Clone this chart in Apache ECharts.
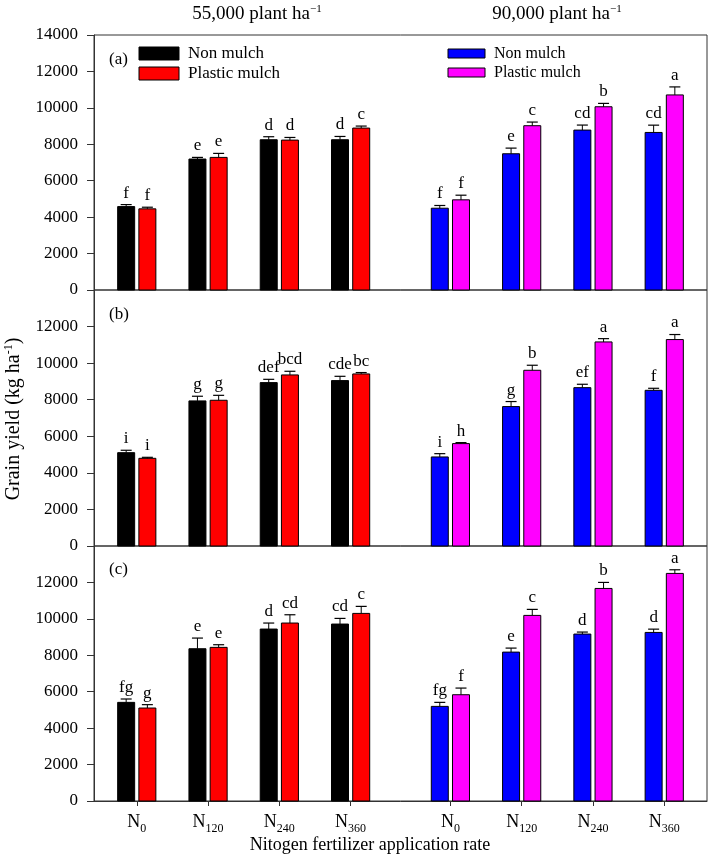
<!DOCTYPE html>
<html>
<head>
<meta charset="utf-8">
<script src="https://cdn.jsdelivr.net/npm/echarts@6/dist/echarts.min.js"></script>
<style>html,body{margin:0;padding:0;background:#fff;}#chart{width:709px;height:856px;}</style>
</head>
<body>
<div id="chart"></div>
<script>
// ---------------- data ----------------
const nLevels = ['0', '120', '240', '360'];
const densityTitles = ['55,000 plant ha', '90,000 plant ha'];
const treatments = ['Non mulch', 'Plastic mulch'];
const yTicks = [0, 2000, 4000, 6000, 8000, 10000, 12000, 14000];
const panelTags = ['(a)', '(b)', '(c)'];

// panel (a)
const a55NonMean = [4580, 7190, 8250, 8250];
const a55NonSE = [110, 90, 165, 180];
const a55NonSig = ['f', 'e', 'd', 'd'];
const a55PlaMean = [4455, 7280, 8230, 8890];
const a55PlaSE = [90, 220, 145, 110];
const a55PlaSig = ['f', 'e', 'd', 'c'];
const a90NonMean = [4490, 7480, 8780, 8650];
const a90NonSE = [150, 310, 275, 400];
const a90NonSig = ['f', 'e', 'cd', 'cd'];
const a90PlaMean = [4950, 9020, 10060, 10710];
const a90PlaSE = [255, 200, 185, 440];
const a90PlaSig = ['f', 'c', 'b', 'a'];

// panel (b)
const b55NonMean = [5105, 7935, 8935, 9045];
const b55NonSE = [130, 255, 180, 235];
const b55NonSig = ['i', 'g', 'def', 'cde'];
const b55PlaMean = [4795, 7970, 9355, 9410];
const b55PlaSE = [55, 270, 200, 75];
const b55PlaSig = ['i', 'g', 'bcd', 'bc'];
const b90NonMean = [4870, 7625, 8660, 8515];
const b90NonSE = [180, 275, 185, 110];
const b90NonSig = ['i', 'g', 'ef', 'f'];
const b90PlaMean = [5600, 9610, 11160, 11290];
const b90PlaSE = [55, 275, 180, 275];
const b90PlaSig = ['h', 'b', 'a', 'a'];

// panel (c)
const c55NonMean = [5415, 8360, 9440, 9715];
const c55NonSE = [185, 585, 330, 310];
const c55NonSig = ['fg', 'e', 'd', 'cd'];
const c55PlaMean = [5105, 8435, 9770, 10300];
const c55PlaSE = [185, 145, 455, 385];
const c55PlaSig = ['g', 'e', 'cd', 'c'];
const c90NonMean = [5195, 8175, 9165, 9255];
const c90NonSE = [220, 220, 110, 180];
const c90NonSig = ['fg', 'e', 'd', 'd'];
const c90PlaMean = [5835, 10190, 11670, 12495];
const c90PlaSE = [365, 330, 330, 200];
const c90PlaSig = ['f', 'c', 'b', 'a'];

// ---------------- layout / style ----------------
const FONT = '"Liberation Serif", "Times New Roman", serif';
const AXIS_COLOR = '#333';
const colors = { N55: '#000000', P55: '#ff0000', N90: '#0000ff', P90: '#ff00ff' };
const BAR_W = 17, BAR_OFF = 10.6, CAP_HALF = 5.5;

// group centre on the numeric x axis: density block 0 starts at 1, block 1 at 5.4
function groupPos(d, i) { return (d === 0 ? 1 : 5.4) + i; }
const tickPositions = [];
[0, 1].forEach(d => nLevels.forEach((n, i) => tickPositions.push(groupPos(d, i))));

const panels = [
  { N55: [a55NonMean, a55NonSE, a55NonSig], P55: [a55PlaMean, a55PlaSE, a55PlaSig],
    N90: [a90NonMean, a90NonSE, a90NonSig], P90: [a90PlaMean, a90PlaSE, a90PlaSig] },
  { N55: [b55NonMean, b55NonSE, b55NonSig], P55: [b55PlaMean, b55PlaSE, b55PlaSig],
    N90: [b90NonMean, b90NonSE, b90NonSig], P90: [b90PlaMean, b90PlaSE, b90PlaSig] },
  { N55: [c55NonMean, c55NonSE, c55NonSig], P55: [c55PlaMean, c55PlaSE, c55PlaSig],
    N90: [c90NonMean, c90NonSE, c90NonSig], P90: [c90PlaMean, c90PlaSE, c90PlaSig] }
];
const gridBoxes = [ {top: 35, height: 255}, {top: 290, height: 256}, {top: 546, height: 255} ];

const grids = [], xAxes = [], yAxes = [], series = [];
gridBoxes.forEach((g, p) => {
  grids.push({ left: 94, right: 2, top: g.top, height: g.height, show: true,
    borderColor: AXIS_COLOR, borderWidth: 1, backgroundColor: 'transparent' });
  const isLast = p === 2;
  xAxes.push({
    type: 'value', gridIndex: p, min: 0.4, max: 9.0,
    axisLine: { show: isLast, onZero: false, lineStyle: { color: AXIS_COLOR } },
    splitLine: { show: false },
    axisTick: { show: isLast, customValues: tickPositions, length: 5, lineStyle: { color: AXIS_COLOR } },
    axisLabel: {
      show: isLast, customValues: tickPositions, margin: 8,
      formatter: v => {
        const idx = tickPositions.findIndex(t => Math.abs(t - v) < 1e-6);
        return '{n|N}{s|' + nLevels[idx % 4] + '}';
      },
      rich: {
        n: { fontFamily: FONT, fontSize: 18, color: '#000', lineHeight: 26, verticalAlign: 'middle' },
        s: { fontFamily: FONT, fontSize: 12, color: '#000', lineHeight: 26, verticalAlign: 'bottom' }
      }
    }
  });
  yAxes.push({
    type: 'value', gridIndex: p, min: 0, max: 14000, interval: 2000,
    axisLine: { show: true, lineStyle: { color: AXIS_COLOR } },
    splitLine: { show: false },
    axisTick: { show: true, length: 7, lineStyle: { color: AXIS_COLOR } },
    axisLabel: {
      margin: 16, color: '#000', fontFamily: FONT, fontSize: 17,
      formatter: v => (p > 0 && v === 14000) ? '' : String(v)
    }
  });
  const P = panels[p];
  [['N55', 0, -1], ['P55', 0, 1], ['N90', 1, -1], ['P90', 1, 1]].forEach(([key, d, side]) => {
    const [mean, se, sig] = P[key];
    series.push({
      type: 'custom', name: key, xAxisIndex: p, yAxisIndex: p,
      encode: { x: 0, y: 1 },
      data: mean.map((m, i) => [groupPos(d, i), m, se[i]]),
      renderItem: (params, api) => {
        const x = api.value(0), m = api.value(1), e = api.value(2);
        const base = api.coord([x, 0]);
        const top = api.coord([x, m]);
        const cap = api.coord([x, m + e]);
        const cx = base[0] + side * BAR_OFF;
        return {
          type: 'group',
          children: [
            { type: 'rect', shape: { x: cx - BAR_W / 2, y: top[1], width: BAR_W, height: base[1] - top[1] },
              style: { fill: colors[key], stroke: '#000', lineWidth: 1 } },
            { type: 'line', shape: { x1: cx, y1: top[1], x2: cx, y2: cap[1] },
              style: { stroke: '#000', lineWidth: 1 } },
            { type: 'line', shape: { x1: cx - CAP_HALF, y1: cap[1], x2: cx + CAP_HALF, y2: cap[1] },
              style: { stroke: '#000', lineWidth: 1.2 } },
            { type: 'text', style: { text: sig[params.dataIndex], x: cx, y: cap[1] - 3,
              textAlign: 'center', textVerticalAlign: 'bottom',
              font: '17px ' + FONT, fill: '#000' } }
          ]
        };
      }
    });
  });
});

// ---------------- annotations ----------------
const supRich = (size, supSize) => ({
  m: { fontFamily: FONT, fontSize: size, fill: '#000', color: '#000', lineHeight: size + 2, verticalAlign: 'middle' },
  u: { fontFamily: FONT, fontSize: supSize, fill: '#000', color: '#000', lineHeight: size + 2, verticalAlign: 'top' }
});
const graphics = [];
[257, 557].forEach((cx, d) => {
  graphics.push({ type: 'text', x: cx, y: 14, style: {
    text: '{m|' + densityTitles[d] + '}{u|\u22121}', rich: supRich(19, 11),
    textAlign: 'center', textVerticalAlign: 'middle' } });
});
graphics.push({ type: 'text', x: 14, y: 419, rotation: Math.PI / 2, style: {
  text: '{m|Grain yield (kg ha}{u|-1}{m|)}', rich: supRich(20, 12),
  textAlign: 'center', textVerticalAlign: 'middle' } });
graphics.push({ type: 'text', x: 370, y: 845, style: {
  text: 'Nitogen fertilizer application rate', font: '18px ' + FONT, fill: '#000',
  textAlign: 'center', textVerticalAlign: 'middle' } });
[60, 315, 570].forEach((y, p) => {
  graphics.push({ type: 'text', x: 109, y: y, style: { text: panelTags[p], font: '17px ' + FONT,
    fill: '#000', textAlign: 'left', textVerticalAlign: 'middle' } });
});
// legends
const legends = [
  { keys: ['N55', 'P55'], bx: 139, bw: 40, bh: 13, ys: [47, 67], tx: 188, fs: 17 },
  { keys: ['N90', 'P90'], bx: 448, bw: 37, bh: 9, ys: [49, 68], tx: 494, fs: 16 }
];
legends.forEach(L => {
  L.keys.forEach((k, j) => {
    graphics.push({ type: 'rect', shape: { x: L.bx, y: L.ys[j], width: L.bw, height: L.bh },
      style: { fill: colors[k], stroke: '#000', lineWidth: 1 } });
    graphics.push({ type: 'text', x: L.tx, y: L.ys[j] + L.bh / 2, style: { text: treatments[j],
      font: L.fs + 'px ' + FONT, fill: '#000', textAlign: 'left', textVerticalAlign: 'middle' } });
  });
});

const chart = echarts.init(document.getElementById('chart'), null, { renderer: 'canvas' });
chart.setOption({
  animation: false,
  backgroundColor: '#fff',
  grid: grids, xAxis: xAxes, yAxis: yAxes, series: series,
  graphic: graphics
});
</script>
</body>
</html>
